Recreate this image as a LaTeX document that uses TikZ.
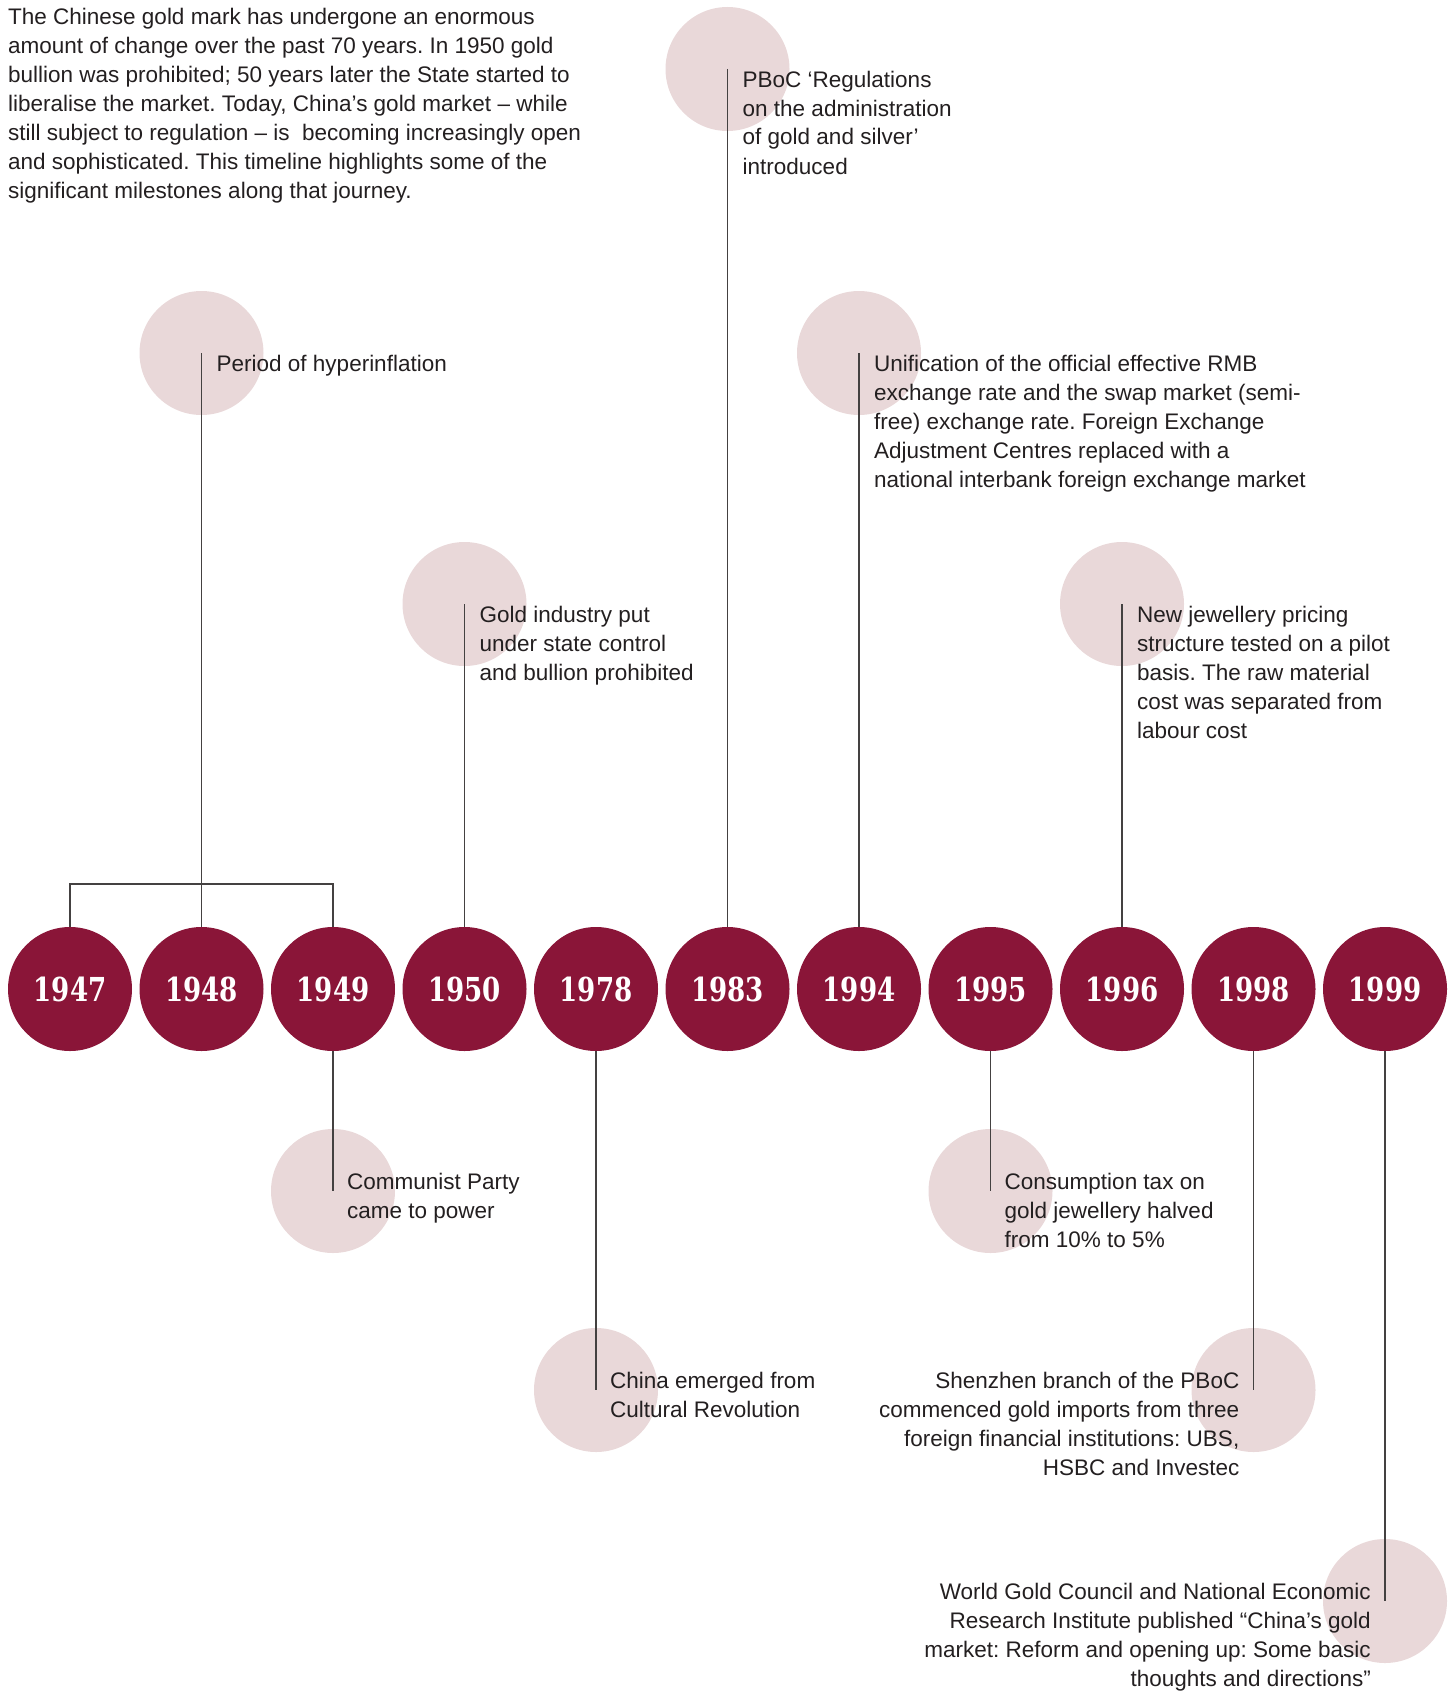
\documentclass[tikz,border=0pt]{standalone}
\usepackage{fontspec}
\setmainfont{Liberation Sans}
\newfontfamily\yearfont[FakeStretch=0.88]{DejaVu Serif Condensed}
\definecolor{wine}{HTML}{8A1538}
\definecolor{blush}{HTML}{E9D8D9}
\definecolor{ink}{HTML}{231F20}
\frenchspacing
\begin{document}
\begin{tikzpicture}[x=1pt,y=-1pt,
  yearc/.style={circle,fill=wine,minimum size=124pt,inner sep=0pt,text=white,font=\yearfont\bfseries\fontsize{33}{33}\selectfont},
  dotc/.style={circle,fill=blush,minimum size=124pt,inner sep=0pt},
  link/.style={draw=ink!85,line width=1.3pt},
  note/.style={inner sep=0pt,text=ink,font=\fontsize{22.5}{29}\selectfont},
  noteL/.style={note,anchor=base west,align=left},
  noteR/.style={note,anchor=base east,align=right}]
\useasboundingbox (0,0) rectangle (1453,1691);
% pale circles
\node[dotc] (p1983) at (727.5,69) {};
\node[dotc] (p1948) at (201.5,353) {};
\node[dotc] (p1994) at (859,353) {};
\node[dotc] (p1950) at (464.5,604) {};
\node[dotc] (p1996) at (1122,604) {};
\node[dotc] (p1949) at (333,1191) {};
\node[dotc] (p1995) at (990.5,1191) {};
\node[dotc] (p1978) at (596,1390) {};
\node[dotc] (p1998) at (1253.5,1390) {};
\node[dotc] (p1999) at (1385,1601) {};
% year circles
\node[yearc] (y1947) at (70,989) {1947};
\node[yearc] (y1948) at (201.5,989) {1948};
\node[yearc] (y1949) at (333,989) {1949};
\node[yearc] (y1950) at (464.5,989) {1950};
\node[yearc] (y1978) at (596,989) {1978};
\node[yearc] (y1983) at (727.5,989) {1983};
\node[yearc] (y1994) at (859,989) {1994};
\node[yearc] (y1995) at (990.5,989) {1995};
\node[yearc] (y1996) at (1122,989) {1996};
\node[yearc] (y1998) at (1253.5,989) {1998};
\node[yearc] (y1999) at (1385,989) {1999};
% connectors
\coordinate (brk) at (0,884);
\draw[link] (y1947.north) -- (y1947.north |- brk) -- (y1949.north |- brk) -- (y1949.north);
\draw[link] (p1948.center) -- (y1948.north);
\draw[link] (p1950.center) -- (y1950.north);
\draw[link] (p1983.center) -- (y1983.north);
\draw[link] (p1994.center) -- (y1994.north);
\draw[link] (p1996.center) -- (y1996.north);
\draw[link] (y1949.south) -- (p1949.center);
\draw[link] (y1978.south) -- (p1978.center);
\draw[link] (y1995.south) -- (p1995.center);
\draw[link] (y1998.south) -- (p1998.center);
\draw[link] (y1999.south) -- (p1999.center);
% intro (anchor = baseline of last line)
\node[noteL] (intro) at (8,198) {The Chinese gold mark has undergone an enormous\\amount of change over the past 70 years. In 1950 gold\\bullion was prohibited; 50 years later the State started to\\liberalise the market. Today, China’s gold market – while\\still subject to regulation – is\ \ becoming increasingly open\\and sophisticated. This timeline highlights some of the\\significant milestones along that journey.};
% notes (anchor = baseline of last line)
\node[noteL] (t1948) at ([shift={(15,18)}]p1948.center) {Period of hyperinflation};
\node[noteL] (t1983) at ([shift={(15,105)}]p1983.center) {PBoC ‘Regulations\\on the administration\\of gold and silver’\\introduced};
\node[noteL] (t1994) at ([shift={(15,134)}]p1994.center) {Unification of the official effective RMB\\exchange rate and the swap market (semi-\\free) exchange rate. Foreign Exchange\\Adjustment Centres replaced with a\\national interbank foreign exchange market};
\node[noteL] (t1950) at ([shift={(15,76)}]p1950.center) {Gold industry put\\under state control\\and bullion prohibited};
\node[noteL] (t1996) at ([shift={(15,134)}]p1996.center) {New jewellery pricing\\structure tested on a pilot\\basis. The raw material\\cost was separated from\\labour cost};
\node[noteL] (t1949) at ([shift={(14,27)}]p1949.center) {Communist Party\\came to power};
\node[noteL] (t1995) at ([shift={(14,56)}]p1995.center) {Consumption tax on\\gold jewellery halved\\from 10\% to 5\%};
\node[noteL] (t1978) at ([shift={(14,27)}]p1978.center) {China emerged from\\Cultural Revolution};
\node[noteR] (t1998) at ([shift={(-14,85)}]p1998.center) {Shenzhen branch of the PBoC\\commenced gold imports from three\\foreign financial institutions: UBS,\\HSBC and Investec};
\node[noteR] (t1999) at ([shift={(-14,85)}]p1999.center) {World Gold Council and National Economic\\Research Institute published “China’s gold\\market: Reform and opening up: Some basic\\thoughts and directions”};
\end{tikzpicture}
\end{document}
